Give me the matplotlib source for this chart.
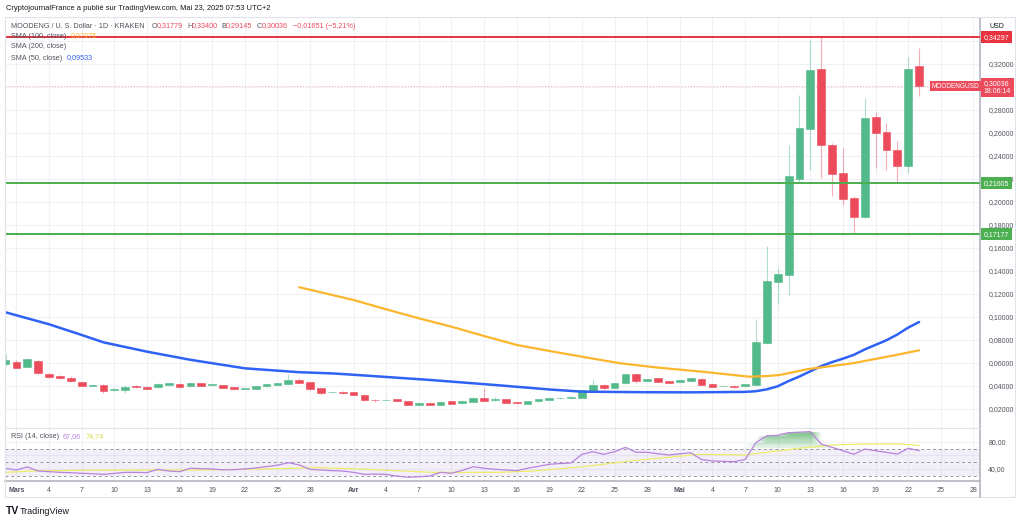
import numpy as np
import matplotlib.pyplot as plt
from matplotlib.patches import Rectangle
from matplotlib.lines import Line2D
from matplotlib.transforms import blended_transform_factory

plt.rcParams['font.family'] = ['Liberation Sans', 'DejaVu Sans']

# daily candles MOODENG/USD (Kraken), 28 Feb -> 23 May 2025
opens = [0.0586, 0.0609, 0.0565, 0.0617, 0.0504, 0.0484, 0.0470, 0.0430, 0.0401, 0.0409,
         0.0360, 0.0365, 0.0397, 0.0389, 0.0386, 0.0409, 0.0417, 0.0395, 0.0421, 0.0410,
         0.0403, 0.0386, 0.0375, 0.0374, 0.0395, 0.0406, 0.0417, 0.0452, 0.0432, 0.0377,
         0.0342, 0.0349, 0.0343, 0.0322, 0.0278, 0.0275, 0.0282, 0.0264, 0.0235, 0.0253,
         0.0232, 0.0264, 0.0247, 0.0258, 0.0290, 0.0273, 0.0282, 0.0256, 0.0243, 0.0264,
         0.0276, 0.0290, 0.0290, 0.0296, 0.0357, 0.0409, 0.0383, 0.0421, 0.0499, 0.0441,
         0.0464, 0.0438, 0.0432, 0.0443, 0.0461, 0.0415, 0.0396, 0.0400, 0.0395, 0.0406,
         0.0774, 0.1304, 0.1363, 0.2197, 0.2630, 0.3151, 0.2496, 0.2247, 0.2035, 0.1870,
         0.2739, 0.2609, 0.2450, 0.2313, 0.31779]
highs = [0.0676, 0.0625, 0.0640, 0.0625, 0.0510, 0.0492, 0.0480, 0.0436, 0.0410, 0.0412,
         0.0380, 0.0405, 0.0403, 0.0393, 0.0420, 0.0427, 0.0422, 0.0430, 0.0425, 0.0417,
         0.0406, 0.0390, 0.0384, 0.0398, 0.0421, 0.0427, 0.0499, 0.0470, 0.0436, 0.0382,
         0.0348, 0.0352, 0.0346, 0.0325, 0.0282, 0.0280, 0.0285, 0.0267, 0.0256, 0.0256,
         0.0264, 0.0267, 0.0273, 0.0305, 0.0377, 0.0300, 0.0285, 0.0259, 0.0270, 0.0285,
         0.0296, 0.0300, 0.0308, 0.0366, 0.0458, 0.0412, 0.0424, 0.0502, 0.0502, 0.0462,
         0.0467, 0.0441, 0.0452, 0.0470, 0.0464, 0.0418, 0.0401, 0.0410, 0.0415, 0.0977,
         0.1615, 0.1420, 0.2493, 0.2928, 0.3406, 0.3430, 0.2510, 0.2464, 0.2050, 0.2899,
         0.2783, 0.2682, 0.2528, 0.3260, 0.33400]
lows = [0.0575, 0.0550, 0.0555, 0.0500, 0.0465, 0.0462, 0.0432, 0.0395, 0.0396, 0.0340,
        0.0355, 0.0336, 0.0382, 0.0370, 0.0380, 0.0405, 0.0382, 0.0390, 0.0393, 0.0407,
        0.0377, 0.0366, 0.0372, 0.0371, 0.0392, 0.0402, 0.0413, 0.0420, 0.0365, 0.0330,
        0.0339, 0.0330, 0.0319, 0.0270, 0.0258, 0.0272, 0.0264, 0.0232, 0.0228, 0.0232,
        0.0229, 0.0238, 0.0244, 0.0255, 0.0264, 0.0270, 0.0250, 0.0244, 0.0240, 0.0261,
        0.0273, 0.0287, 0.0287, 0.0293, 0.0354, 0.0362, 0.0380, 0.0418, 0.0425, 0.0438,
        0.0432, 0.0420, 0.0429, 0.0440, 0.0406, 0.0388, 0.0393, 0.0380, 0.0392, 0.0403,
        0.0760, 0.1110, 0.1189, 0.2160, 0.2276, 0.2203, 0.2052, 0.1971, 0.1718, 0.1860,
        0.2290, 0.2276, 0.2160, 0.2247, 0.29145]
closes = [0.0623, 0.0557, 0.0630, 0.0508, 0.0473, 0.0470, 0.0438, 0.0400, 0.0404, 0.0354,
          0.0374, 0.0391, 0.0386, 0.0374, 0.0415, 0.0423, 0.0386, 0.0426, 0.0397, 0.0413,
          0.0380, 0.0369, 0.0380, 0.0395, 0.0417, 0.0423, 0.0452, 0.0426, 0.0369, 0.0334,
          0.0344, 0.0334, 0.0322, 0.0273, 0.0273, 0.0277, 0.0267, 0.0235, 0.0253, 0.0235,
          0.0261, 0.0241, 0.0270, 0.0293, 0.0267, 0.0282, 0.0253, 0.0247, 0.0267, 0.0282,
          0.0293, 0.0296, 0.0304, 0.0363, 0.0403, 0.0380, 0.0421, 0.0499, 0.0441, 0.0458,
          0.0435, 0.0423, 0.0449, 0.0467, 0.0409, 0.0391, 0.0398, 0.0391, 0.0412, 0.0777,
          0.1308, 0.1371, 0.2220, 0.2638, 0.3145, 0.2490, 0.2238, 0.2023, 0.1864, 0.2730,
          0.2600, 0.2450, 0.2310, 0.3154, 0.30036]

# moving averages (day index from 28 Feb)
sma50_days = [0, 4, 7, 9, 13, 17, 22, 27, 30, 32, 39, 45, 50, 53, 59, 63, 68, 69, 70, 71,
              72, 73, 74, 75, 76, 77, 78, 79, 80, 81, 82, 83, 84]
sma50_vals = [0.1038, 0.0934, 0.0841, 0.0777, 0.0696, 0.0625, 0.0551, 0.0517, 0.0507, 0.0495,
              0.0450, 0.0406, 0.0367, 0.0348, 0.0343, 0.0342, 0.0346, 0.0352, 0.0368, 0.0395,
              0.0440, 0.0480, 0.0525, 0.0570, 0.0605, 0.0635, 0.0668, 0.0715, 0.0755, 0.0795,
              0.0845, 0.0905, 0.09533]
sma100_days = [27, 32, 35, 38, 41, 44, 47, 50, 53, 56.5, 60, 64, 68.4, 70, 71.2, 73.7, 77.9, 81.9, 84]
sma100_vals = [0.1256, 0.1145, 0.1064, 0.0986, 0.0913, 0.0832, 0.0754, 0.0702, 0.0652, 0.0595,
               0.0557, 0.0522, 0.0478, 0.0484, 0.0493, 0.0543, 0.0595, 0.0667, 0.07075]

rsi = [41, 38.5, 43, 37, 36, 35, 34.5, 33.6, 33, 32, 33.5, 35, 35, 34.6, 39.5, 37, 36, 41, 40.5, 40,
       38.8, 39, 40, 41.5, 43.5, 45.5, 49.3, 46, 39.5, 38.5, 37.5, 37, 35, 32, 32.5, 32, 29.5, 27.7,
       28.5, 29.6, 35, 33.6, 38, 43.4, 41, 39.5, 38.5, 37.5, 41, 44, 47, 48, 49, 61.7, 65.6, 61.7,
       65.6, 72, 64.7, 64.7, 62.5, 60.7, 62.5, 64, 54, 51.9, 51.3, 50.8, 54, 79, 89.3, 89.8, 93.8,
       94.5, 95.3, 77, 72, 67, 61.7, 69.6, 67, 64.5, 62, 70.7, 67.06]
rsi_ma_days = [0, 2.5, 8.6, 17.8, 24, 28.6, 33.2, 39.3, 45.4, 48.5, 53.1, 57.7, 63.8, 68, 73, 76,
               79.2, 82.2, 84]
rsi_ma_vals = [35, 37, 38.5, 38.5, 40, 42, 39.5, 35, 35, 37, 43.4, 52.3, 61.7, 60.7, 70.7, 75.6,
               77, 77, 74.74]

price_ticks = [0.02, 0.04, 0.06, 0.08, 0.10, 0.12, 0.14, 0.16, 0.18, 0.20, 0.22, 0.24, 0.26, 0.28, 0.32]
tick_days = [1, 4, 7, 10, 13, 16, 19, 22, 25, 28, 32, 35, 38, 41, 44, 47, 50, 53, 56, 59,
             62, 65, 68, 71, 74, 77, 80, 83, 86, 89]
tick_labels = ['Mars', '4', '7', '10', '13', '16', '19', '22', '25', '28',
               'Avr', '4', '7', '10', '13', '16', '19', '22', '25', '28',
               'Mai', '4', '7', '10', '13', '16', '19', '22', '25', '28']
levels = [0.34297, 0.21605, 0.17177]
level_colors = ['#e8323f', '#4caf50', '#4caf50']
last_price = 0.30036

UP = '#52b98a'
DOWN = '#ec4b5b'
GRID = '#eef1f6'
TXT = '#50535e'
FS = 5.2

W, H = 1024, 520
fig = plt.figure(figsize=(W / 100, H / 100), dpi=100)
fig.patch.set_facecolor('white')

def fx(px):
    return px / W

def fy(py):
    return 1 - py / H

L, R = 5, 980
ax = fig.add_axes([fx(L), fy(428), fx(R - L), (428 - 18) / H])
ax2 = fig.add_axes([fx(L), fy(481), fx(R - L), (481 - 428) / H])

x = np.arange(len(opens))
o = np.array(opens); c = np.array(closes); hi = np.array(highs); lo = np.array(lows)
up = c >= o
cols = np.where(up, UP, DOWN)

# grid
for a in (ax, ax2):
    for d in tick_days:
        a.axvline(d, color=GRID, lw=0.8, zorder=0)
for p in price_ticks + [0.30, 0.34]:
    ax.axhline(p, color=GRID, lw=0.8, zorder=0)
for r in (40, 60, 80):
    ax2.axhline(r, color=GRID, lw=0.8, zorder=0)

# candles
ax.vlines(x, lo, hi, colors=cols, lw=0.8, alpha=0.45, zorder=2)
ax.bar(x, np.maximum(np.abs(c - o), 0.0004), bottom=np.minimum(o, c), width=0.72,
       color=cols, edgecolor=cols, lw=0.4, zorder=3)

ax.plot(sma50_days, sma50_vals, color='#2e62f5', lw=1.8, zorder=4, solid_capstyle='round')
ax.plot(sma100_days, sma100_vals, color='#fbb62c', lw=1.6, zorder=4, solid_capstyle='round')

# horizontal levels
for lv, lc in zip(levels, level_colors):
    ax.axhline(lv, color=lc, lw=1.4, zorder=5)
ax.axhline(last_price, color=DOWN, lw=0.7, ls=(0, (1, 2)), alpha=0.5, zorder=1)

xmin, xmax = -0.05, 89.6
ax.set_xlim(xmin, xmax)
ax.set_ylim(0.0032, 0.3597)
ax.yaxis.tick_right()
ax.set_yticks(price_ticks)
ax.set_yticklabels([('%.5f' % p).replace('.', ',') for p in price_ticks])
ax.tick_params(axis='y', length=0, pad=6, labelsize=5.0, labelcolor=TXT)
ax.set_xticks([])
for s in ('top', 'left', 'bottom'):
    ax.spines[s].set_visible(False)
ax.spines['right'].set_color('#b2b5be')
ax.spines['right'].set_linewidth(1.2)

# price boxes on the right scale
tr = blended_transform_factory(ax.transAxes, ax.transData)
box_labels = [('%.5f' % lv).replace('.', ',') for lv in levels]
for lv, lc, lab in zip(levels, level_colors, box_labels):
    ax.text(1.004, lv, lab, transform=tr, ha='left', va='center', fontsize=5.0, color='white',
            bbox=dict(boxstyle='square,pad=0.35', fc=lc, ec='none'), clip_on=False, zorder=10)
ax.text(1.004, last_price - 0.0013, '0,30036\n18:06:14', transform=tr, ha='left', va='center',
        fontsize=5.0, color='white', linespacing=1.1,
        bbox=dict(boxstyle='square,pad=0.35', fc=DOWN, ec='none'), clip_on=False, zorder=10)
ax.text(0.9993, last_price, 'MOODENGUSD', transform=tr, ha='right', va='center', fontsize=4.7,
        color='white', bbox=dict(boxstyle='square,pad=0.25', fc=DOWN, ec='none'), zorder=10)

# RSI pane
ax2.axhspan(30, 70, color='#7e57c2', alpha=0.09, lw=0, zorder=0)
for r in (30, 50, 70):
    ax2.axhline(r, color='#9598a1', lw=0.7, ls=(0, (3, 3)), zorder=1)
rsi_arr = np.array(rsi, dtype=float)
# overbought zone: stacked bands give a gradient (stronger near the top)
for k in range(26):
    lower = 70 + k
    ax2.fill_between(x, np.clip(rsi_arr, lower, lower + 1), lower, where=rsi_arr > lower,
                     interpolate=True, color='#2e9d40', alpha=0.04 + 0.028 * k, lw=0, zorder=2)
ax2.plot(rsi_ma_days, rsi_ma_vals, color='#eded6a', lw=0.9, zorder=3)
ax2.plot(x, rsi_arr, color='#b683dd', lw=0.9, zorder=4)
ax2.set_xlim(xmin, xmax)
ax2.set_ylim(22.2, 100.7)
ax2.yaxis.tick_right()
ax2.set_yticks([40, 80])
ax2.set_yticklabels(['40,00', '80,00'])
ax2.tick_params(axis='y', length=0, pad=6, labelsize=5.0, labelcolor=TXT)
ax2.set_xticks(tick_days)
ax2.set_xticklabels(tick_labels)
ax2.tick_params(axis='x', length=0, pad=4, labelsize=5.0, labelcolor=TXT)
for lab in ax2.get_xticklabels():
    if lab.get_text() in ('Mars', 'Avr', 'Mai'):
        lab.set_fontweight('bold')
ax2.spines['top'].set_color('#e0e3eb')
ax2.spines['top'].set_linewidth(0.8)
ax2.spines['left'].set_visible(False)
ax2.spines['right'].set_color('#b2b5be')
ax2.spines['right'].set_linewidth(1.2)
ax2.spines['bottom'].set_color('#b2b5be')
ax2.spines['bottom'].set_linewidth(1.2)

# frame and axis separator
fig.add_artist(Rectangle((fx(5), fy(497)), fx(1015 - 5), (497 - 17) / H, fill=False,
                         ec='#e0e3eb', lw=0.8, transform=fig.transFigure))
fig.add_artist(Line2D([fx(R), fx(R)], [fy(497), fy(481)], color='#b2b5be', lw=1.2))
fig.text(fx(997), fy(27), 'USD', fontsize=5.0, color='#131722', ha='center', va='center')

# header and legends
fig.text(fx(6), fy(9), 'CryptojournalFrance a publié sur TradingView.com, Mai 23, 2025 07:53 UTC+2',
         fontsize=5.4, color='#131722', va='center')
fig.text(fx(11), fy(26), 'MOODENG / U. S. Dollar · 1D · KRAKEN', fontsize=FS, color=TXT, va='center')
ohlc = [('O', '0,31779', 152), ('H', '0,33400', 187), ('B', '0,29145', 221), ('C', '0,30036', 257)]
for k, v, px in ohlc:
    fig.text(fx(px), fy(26), k, fontsize=FS, color=TXT, va='center')
    fig.text(fx(px + 4.5), fy(26), v, fontsize=FS, color=DOWN, va='center')
fig.text(fx(293), fy(26), '−0,01651 (−5,21%)', fontsize=FS, color=DOWN, va='center')
fig.text(fx(11), fy(36), 'SMA (100, close)', fontsize=FS, color=TXT, va='center')
fig.text(fx(71), fy(36), '0,07075', fontsize=FS, color='#fbb62c', va='center')
fig.text(fx(11), fy(47), 'SMA (200, close)', fontsize=FS, color=TXT, va='center')
fig.text(fx(11), fy(58), 'SMA (50, close)', fontsize=FS, color=TXT, va='center')
fig.text(fx(67), fy(58), '0,09533', fontsize=FS, color='#2e62f5', va='center')
fig.text(fx(11), fy(437), 'RSI (14, close)', fontsize=FS, color=TXT, va='center')
fig.text(fx(63), fy(437), '67,06', fontsize=FS, color='#b683dd', va='center')
fig.text(fx(86), fy(437), '74,74', fontsize=FS, color='#d9d94a', va='center')

# footer logo
fig.text(fx(6), fy(511), 'TV', fontsize=7.5, fontweight='bold', color='#131722', va='center')
fig.text(fx(20), fy(511), 'TradingView', fontsize=6.5, color='#131722', va='center')

fig.savefig('out.png', dpi=100)
